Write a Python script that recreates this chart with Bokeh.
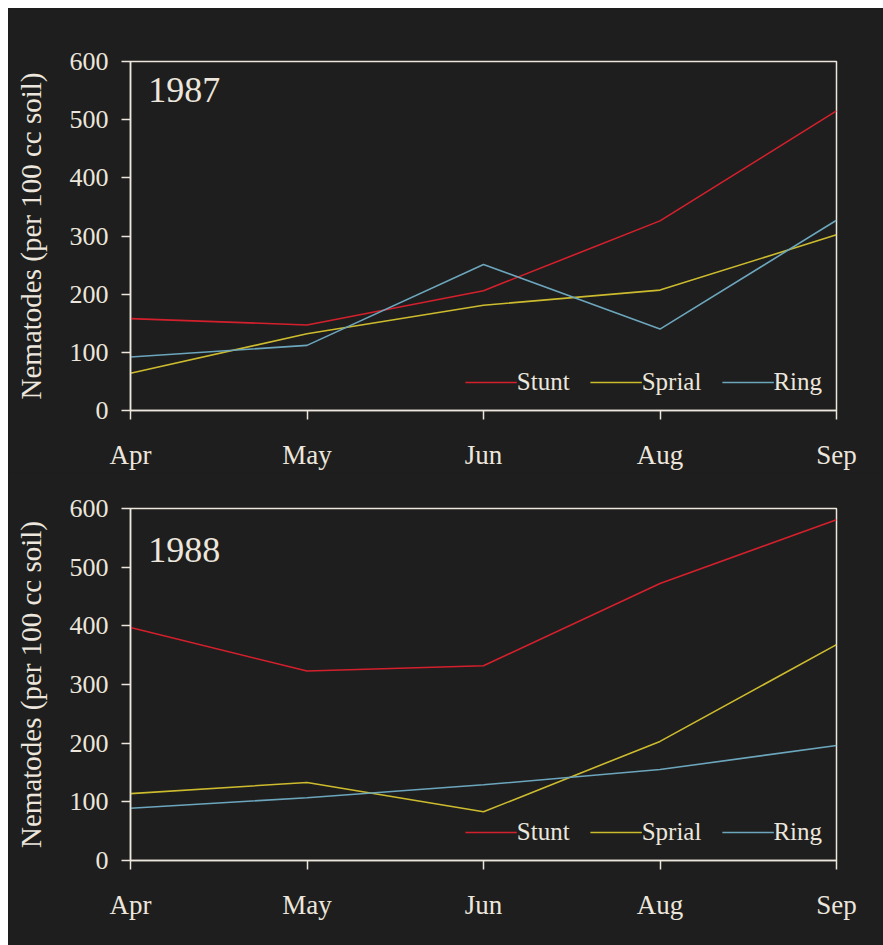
from bokeh.plotting import figure
from bokeh.layouts import column
from bokeh.models import Range1d, FixedTicker, Legend, LegendItem, Label
from bokeh.embed import file_html
from bokeh.resources import INLINE

months = ["Apr", "May", "Jun", "Aug", "Sep"]
y_ticks = [0, 100, 200, 300, 400, 500, 600]

stunt_1987 = [158, 147, 206, 326, 515]
sprial_1987 = [64, 132, 181, 207, 302]
ring_1987 = [92, 112, 251, 140, 327]

stunt_1988 = [397, 323, 332, 472, 581]
sprial_1988 = [114, 133, 83, 203, 368]
ring_1988 = [89, 107, 129, 155, 196]

BG = "#1e1e1e"
FG = "#ece6dc"
FONT = "Liberation Serif"
COLORS = {"Stunt": "#d4202c", "Sprial": "#cdbb2e", "Ring": "#6ca6bd"}


def make_panel(year, stunt, sprial, ring, height, top, bottom, label_y):
    p = figure(width=875, height=height, output_backend="svg", toolbar_location=None,
               x_range=Range1d(0, len(months) - 1), y_range=Range1d(0, 600),
               min_border_left=122, min_border_right=47,
               min_border_top=top, min_border_bottom=bottom)
    p.background_fill_color = BG
    p.border_fill_color = BG
    p.outline_line_color = FG
    p.outline_line_width = 1.5
    p.grid.visible = False

    xs = list(range(len(months)))
    items = []
    for name, vals in (("Stunt", stunt), ("Sprial", sprial), ("Ring", ring)):
        r = p.line(xs, vals, line_color=COLORS[name], line_width=1.6)
        items.append(LegendItem(label=name, renderers=[r]))

    p.xaxis.ticker = FixedTicker(ticks=xs)
    p.xaxis.major_label_overrides = {i: m for i, m in enumerate(months)}
    p.yaxis.ticker = FixedTicker(ticks=y_ticks)
    for ax in (p.xaxis[0], p.yaxis[0]):
        ax.axis_line_color = FG
        ax.axis_line_width = 1.5
        ax.major_tick_line_color = FG
        ax.major_tick_line_width = 1.5
        ax.major_tick_out = 9
        ax.major_tick_in = 0
        ax.minor_tick_line_color = None
        ax.major_label_text_color = FG
        ax.major_label_text_font = FONT
    p.xaxis.major_label_text_font_size = "27px"
    p.yaxis.major_label_text_font_size = "26px"
    p.xaxis.major_label_standoff = 20
    p.yaxis.major_label_standoff = 13
    p.yaxis.axis_label = "Nematodes (per 100 cc soil)"
    p.yaxis.axis_label_text_font = FONT
    p.yaxis.axis_label_text_font_size = "29px"
    p.yaxis.axis_label_text_font_style = "normal"
    p.yaxis.axis_label_text_color = FG
    p.yaxis.axis_label_standoff = 20

    legend = Legend(items=items, location="bottom_right", orientation="horizontal",
                    background_fill_alpha=0, border_line_color=None,
                    label_text_font=FONT, label_text_font_size="25px",
                    label_text_color=FG, glyph_width=52, label_standoff=0,
                    spacing=20, padding=2, margin=14)
    p.add_layout(legend)

    p.add_layout(Label(x=0.1, y=label_y, text=year, text_font=FONT,
                       text_font_size="36px", text_color=FG))
    return p


p1 = make_panel("1987", stunt_1987, sprial_1987, ring_1987, 464, 53, 57, 531)
p2 = make_panel("1988", stunt_1988, sprial_1988, ring_1988, 473, 36, 85, 508)
layout = column(p1, p2, spacing=0)
layout.margin = (8, 0, 0, 8)
layout.styles = {"background-color": BG}

open("out.html", "w").write(file_html(layout, INLINE))
